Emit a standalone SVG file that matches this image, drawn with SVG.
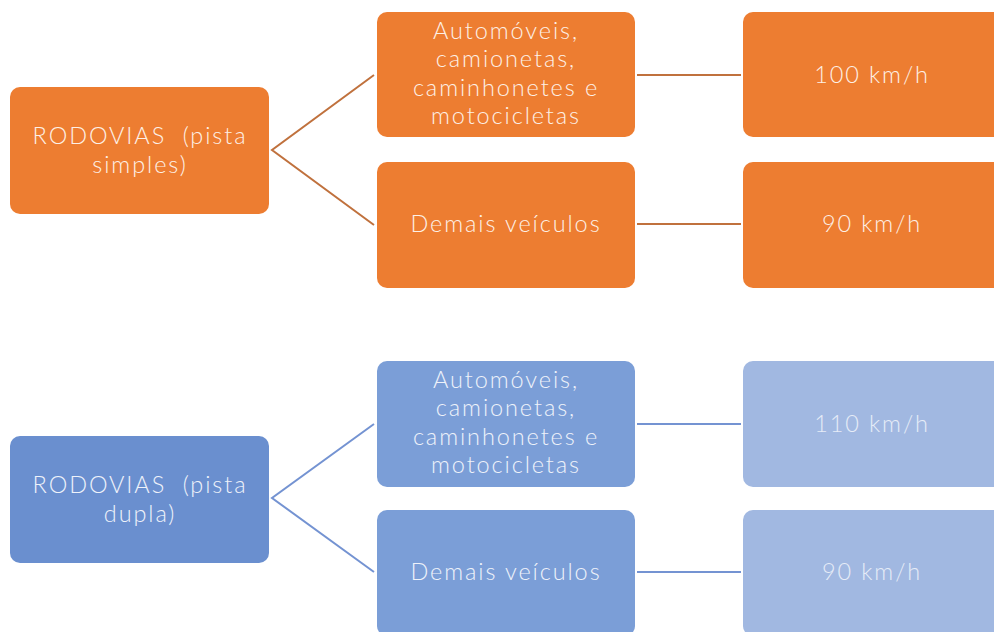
<svg xmlns="http://www.w3.org/2000/svg" width="994" height="632" viewBox="0 0 994 632">
<style>
.o{fill:#ED7D31}
.b1{fill:#6A8FCF}
.b2{fill:#7B9ED7}
.b3{fill:#A1B8E1}
text{font-family:Lato,"Open Sans","Liberation Sans",sans-serif;font-size:23.5px;font-weight:300;letter-spacing:1.9px;text-anchor:middle;white-space:pre}
.to{fill:#FDF0E6}
.tb{fill:#EEF2FA}
.tf{fill:#E6ECF7}
.co{stroke:#C0713D;stroke-width:2;fill:none}
.cb{stroke:#7493D2;stroke-width:2;fill:none}
</style>
<rect width="994" height="632" fill="#FFFFFF"/>
<g id="connectors">
<path class="co" d="M374 75 L272 150 L374 225"/>
<path class="co" d="M637 75 H741"/>
<path class="co" d="M637 224 H741"/>
<path class="cb" d="M374 424 L272 498 L374 572"/>
<path class="cb" d="M637 424 H741"/>
<path class="cb" d="M637 572 H741"/>
</g>
<g id="root1"><rect class="o" x="10" y="87" width="259" height="127" rx="10"/>
<text class="to" x="140" y="144" xml:space="preserve">RODOVIAS  (pista</text><text class="to" x="140" y="173">simples)</text></g>
<g id="n1a"><rect class="o" x="377" y="12" width="258" height="125" rx="10"/>
<text class="to" x="506" y="39">Automóveis,</text><text class="to" x="506" y="67">camionetas,</text><text class="to" x="506" y="96">caminhonetes e</text><text class="to" x="506" y="124">motocicletas</text></g>
<g id="n1b"><rect class="o" x="377" y="162" width="258" height="126" rx="10"/>
<text class="to" x="506" y="232">Demais veículos</text></g>
<g id="s1a"><rect class="o" x="743" y="12" width="262" height="125" rx="10"/>
<text class="to" x="872" y="83">100 km/h</text></g>
<g id="s1b"><rect class="o" x="743" y="162" width="262" height="126" rx="10"/>
<text class="to" x="872" y="232">90 km/h</text></g>
<g id="root2"><rect class="b1" x="10" y="436" width="259" height="127" rx="10"/>
<text class="tb" x="140" y="493" xml:space="preserve">RODOVIAS  (pista</text><text class="tb" x="140" y="522">dupla)</text></g>
<g id="n2a"><rect class="b2" x="377" y="361" width="258" height="126" rx="10"/>
<text class="tb" x="506" y="388">Automóveis,</text><text class="tb" x="506" y="416">camionetas,</text><text class="tb" x="506" y="445">caminhonetes e</text><text class="tb" x="506" y="473">motocicletas</text></g>
<g id="n2b"><rect class="b2" x="377" y="510" width="258" height="126" rx="10"/>
<text class="tb" x="506" y="580">Demais veículos</text></g>
<g id="s2a"><rect class="b3" x="743" y="361" width="262" height="126" rx="10"/>
<text class="tf" x="872" y="432">110 km/h</text></g>
<g id="s2b"><rect class="b3" x="743" y="510" width="262" height="126" rx="10"/>
<text class="tf" x="872" y="580">90 km/h</text></g>
</svg>
